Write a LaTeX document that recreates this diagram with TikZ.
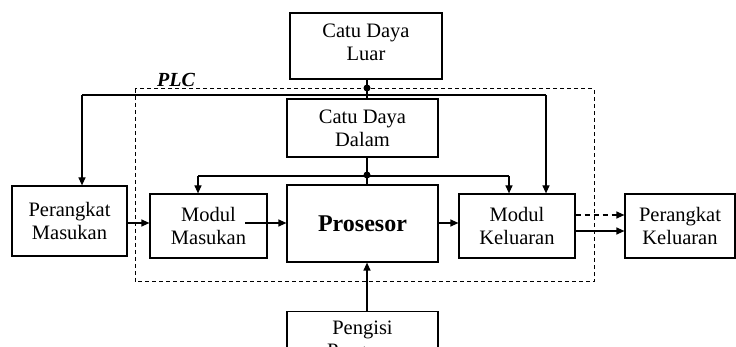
\documentclass[tikz,border=0pt]{standalone}
\usepackage{fontspec}
\setmainfont{Liberation Serif}
\usetikzlibrary{arrows.meta}
\begin{document}
\begin{tikzpicture}[x=1pt,y=-1pt,
  box/.style={draw, line width=1.2pt, inner sep=0pt, align=center,
    font=\fontsize{20.5}{23}\selectfont},
  arr/.style={line width=1.2pt, -{Triangle[length=8pt,width=7pt]}},
  ln/.style={line width=1.2pt},
  dot/.style={circle, fill=black, inner sep=0pt, minimum size=7pt}]
\useasboundingbox (0,0) rectangle (736,347);
\clip (0,0) rectangle (736,347);
% PLC frame
\draw[line width=1pt, dash pattern=on 4pt off 3pt] (135,89) rectangle (594,282);
\node[font=\fontsize{20}{22}\selectfont\bfseries\itshape] (plc) at (176,80) {PLC};
% boxes
\draw[line width=1.2pt] (290,13) rectangle (442,79);
\node[align=center, inner sep=0pt, font=\fontsize{20.5}{23}\selectfont] (luar) at (366,42) {Catu Daya\\Luar};
\coordinate (luarS) at (366,79);
\node[box, minimum width=151pt, minimum height=58pt] (dalam) at (362.5,128) {Catu Daya\\Dalam};
\node[box, minimum width=151pt, minimum height=77pt, font=\fontsize{24}{26}\selectfont\bfseries] (pr) at (362.5,223.5) {Prosesor};
\node[box, minimum width=117pt, minimum height=64pt] (mm) at (208.5,226) {Modul\\Masukan};
\node[box, minimum width=116pt, minimum height=64pt] (mk) at (517,226) {Modul\\Keluaran};
\node[box, minimum width=115pt, minimum height=70pt] (pm) at (69.5,221) {Perangkat\\Masukan};
\node[box, minimum width=110pt, minimum height=64pt] (pk) at (680,226) {Perangkat\\Keluaran};
\node[box, minimum width=151pt, minimum height=60pt, anchor=north] (pg) at (362.5,311) {Pengisi\\Program};
% external power
\coordinate (v) at (367,0);
\node[dot] (d1) at (367,88) {};
\draw[ln] (v |- luarS) -- (v |- dalam.north);
\coordinate (busL) at (82,95);
\coordinate (busR) at (546,95);
\draw[ln] (busL) -- (busR);
\draw[arr] (busL) -- (busL |- pm.north);
\draw[arr] (busR) -- (busR |- mk.north);
% internal power
\node[dot] (d2) at (367,175) {};
\draw[ln] (v |- dalam.south) -- (v |- pr.north);
\coordinate (ibL) at (198,176);
\coordinate (ibR) at (509,176);
\draw[ln] (ibL) -- (ibR);
\draw[arr] (ibL) -- (ibL |- mm.north);
\draw[arr] (ibR) -- (ibR |- mk.north);
% signal flow
\coordinate (a1) at (0,223);
\draw[arr] (a1 -| pm.east) -- (a1 -| mm.west);
\coordinate (mmin) at (245,223);
\draw[arr] (mmin) -- (mmin -| pr.west);
\draw[arr] (a1 -| pr.east) -- (a1 -| mk.west);
\coordinate (a2) at (0,215);
\coordinate (a3) at (0,231);
\draw[arr, dash pattern=on 5pt off 4pt] (a2 -| mk.east) -- (a2 -| pk.west);
\draw[arr] (a3 -| mk.east) -- (a3 -| pk.west);
\draw[arr] (v |- pg.north) -- (v |- pr.south);
\end{tikzpicture}
\end{document}
